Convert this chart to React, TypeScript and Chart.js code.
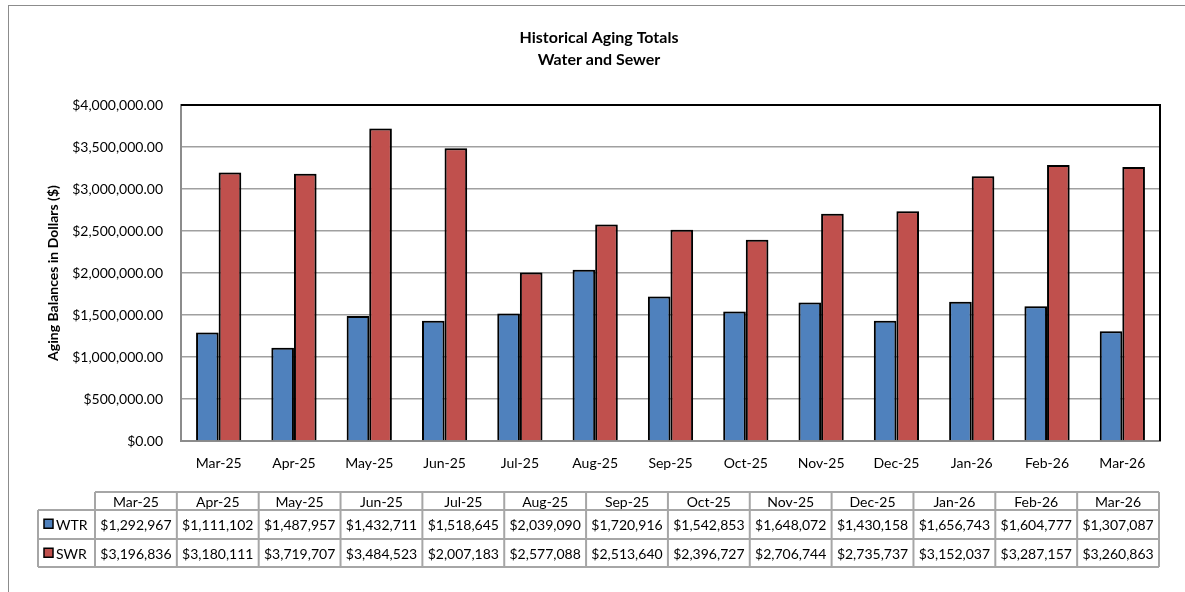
import React, { useEffect, useRef } from "react";
import { Chart, registerables } from "chart.js";

Chart.register(...registerables);

const categories = ["Mar-25", "Apr-25", "May-25", "Jun-25", "Jul-25", "Aug-25", "Sep-25", "Oct-25", "Nov-25", "Dec-25", "Jan-26", "Feb-26", "Mar-26"];
const wtrValues = [1292967, 1111102, 1487957, 1432711, 1518645, 2039090, 1720916, 1542853, 1648072, 1430158, 1656743, 1604777, 1307087];
const swrValues = [3196836, 3180111, 3719707, 3484523, 2007183, 2577088, 2513640, 2396727, 2706744, 2735737, 3152037, 3287157, 3260863];
const seriesNames = ["WTR", "SWR"];
const seriesColors = ["#4F81BD", "#C0504D"];
const titleLines = ["Historical Aging Totals", "Water and Sewer"];
const yAxisTitle = "Aging Balances in Dollars ($)";

const FONT = "Lato, 'Open Sans', sans-serif";

const money = (v: number) => "$" + v.toLocaleString("en-US");

const decorPlugin = {
  id: "decor",
  beforeDatasetsDraw(chart: any) {
    const ctx = chart.ctx;
    ctx.save();
    ctx.shadowColor = "rgba(0,0,0,0.3)";
    ctx.shadowBlur = 3;
    ctx.shadowOffsetX = 0;
    ctx.shadowOffsetY = 0;
  },
  afterDatasetsDraw(chart: any) {
    chart.ctx.restore();
  },
  afterDraw(chart: any) {
    const ctx = chart.ctx;
    const ca = chart.chartArea;
    ctx.save();
    // outer chart border
    ctx.strokeStyle = "#8c8c8c";
    ctx.lineWidth = 1;
    ctx.strokeRect(8.5, 5.5, 1200, 620);
    // plot border top/right
    ctx.strokeStyle = "#000";
    ctx.lineWidth = 2;
    ctx.beginPath();
    ctx.moveTo(ca.left, ca.top);
    ctx.lineTo(ca.right, ca.top);
    ctx.lineTo(ca.right, ca.bottom);
    ctx.stroke();
    // titles
    ctx.fillStyle = "#000";
    ctx.textAlign = "center";
    ctx.textBaseline = "middle";
    ctx.font = `bold 16px ${FONT}`;
    ctx.fillText(titleLines[0], 599, 38);
    ctx.fillText(titleLines[1], 599, 60);
    // y axis title
    ctx.save();
    ctx.translate(53, (ca.top + ca.bottom) / 2);
    ctx.rotate(-Math.PI / 2);
    ctx.font = `bold 14px ${FONT}`;
    ctx.fillText(yAxisTitle, 0, 0);
    ctx.restore();

    // data table
    const tLeft = 95, tRight = 1159, legLeft = 38;
    const hTop = 492, r1Top = 510, r2Top = 539, bottom = 567;
    const colW = (tRight - tLeft) / categories.length;
    ctx.strokeStyle = "#a6a6a6";
    ctx.lineWidth = 2;
    ctx.beginPath();
    ctx.moveTo(tLeft, hTop); ctx.lineTo(tRight, hTop);
    ctx.moveTo(legLeft, r1Top); ctx.lineTo(tRight, r1Top);
    ctx.moveTo(legLeft, r2Top); ctx.lineTo(tRight, r2Top);
    ctx.moveTo(legLeft, bottom); ctx.lineTo(tRight, bottom);
    ctx.moveTo(legLeft, r1Top); ctx.lineTo(legLeft, bottom);
    for (let i = 0; i <= categories.length; i++) {
      const x = tLeft + i * colW;
      ctx.moveTo(x, hTop); ctx.lineTo(x, bottom);
    }
    ctx.stroke();

    ctx.font = `14px ${FONT}`;
    ctx.fillStyle = "#000";
    ctx.textAlign = "center";
    const rows = [wtrValues, swrValues];
    categories.forEach((c, i) => {
      const cx = tLeft + (i + 0.5) * colW;
      ctx.fillText(c, cx, (hTop + r1Top) / 2 + 1);
      ctx.fillText(money(rows[0][i]), cx, (r1Top + r2Top) / 2 + 1);
      ctx.fillText(money(rows[1][i]), cx, (r2Top + bottom) / 2 + 1);
    });
    const rowTops = [r1Top, r2Top];
    seriesNames.forEach((n, k) => {
      const cy = (rowTops[k] + rowTops[k] + 28.5) / 2;
      ctx.fillStyle = seriesColors[k];
      ctx.fillRect(44, cy - 5, 9, 9);
      ctx.strokeStyle = "#000";
      ctx.lineWidth = 1.5;
      ctx.strokeRect(44, cy - 5, 9, 9);
      ctx.fillStyle = "#000";
      ctx.textAlign = "left";
      ctx.fillText(n, 56, cy + 1);
    });
    ctx.restore();
  },
};

export default function App() {
  const ref = useRef<HTMLCanvasElement | null>(null);
  useEffect(() => {
    if (!ref.current) return;
    const chart = new Chart(ref.current, {
      type: "bar",
      data: {
        labels: categories,
        datasets: [
          { label: seriesNames[0], data: wtrValues, backgroundColor: seriesColors[0], borderColor: "#000", borderWidth: 2 },
          { label: seriesNames[1], data: swrValues, backgroundColor: seriesColors[1], borderColor: "#000", borderWidth: 2 },
        ],
      },
      options: {
        responsive: false,
        animation: false,
        devicePixelRatio: 1,
        layout: { padding: { top: 105, right: 25, bottom: 0, left: 0 } },
        datasets: { bar: { barPercentage: 1.0, categoryPercentage: 0.6 } },
        plugins: { legend: { display: false }, title: { display: false }, tooltip: { enabled: false } },
        scales: {
          x: {
            offset: true,
            grid: { display: false, drawTicks: false },
            border: { display: true, color: "#8c8c8c", width: 2 },
            ticks: { color: "#000", font: { family: FONT, size: 14 }, padding: 14, maxRotation: 0, autoSkip: false },
            afterFit(s: any) { s.height = 151; },
          },
          y: {
            min: 0,
            max: 4000000,
            ticks: {
              stepSize: 500000,
              color: "#000",
              font: { family: FONT, size: 14 },
              padding: 18,
              callback: (v: any) => "$" + Number(v).toLocaleString("en-US", { minimumFractionDigits: 2, maximumFractionDigits: 2 }),
            },
            grid: { color: "#a0a0a0", lineWidth: 1.5, drawTicks: false },
            border: { color: "#8c8c8c", width: 2 },
            afterFit(s: any) { s.width = 181; },
          },
        },
      },
      plugins: [decorPlugin],
    });
    return () => chart.destroy();
  }, []);
  return (
    <div style={{ position: "absolute", left: 0, top: 0, width: 1185, height: 592, background: "#fff" }}>
      <canvas ref={ref} width={1185} height={592} />
    </div>
  );
}
